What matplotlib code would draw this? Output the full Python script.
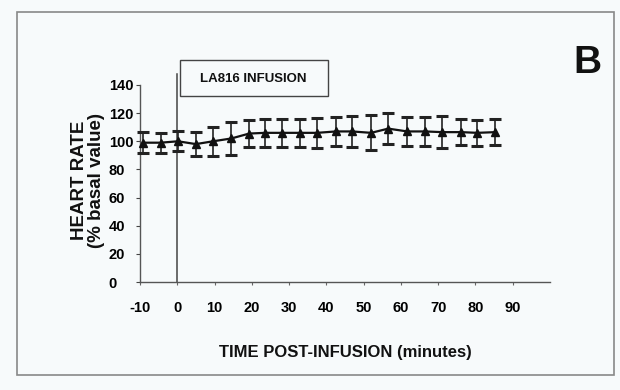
import matplotlib
matplotlib.use("Agg")
import matplotlib.pyplot as plt
from matplotlib.patches import Rectangle

# Data
time_min = [-9.3, -4.5, 0.2, 5.0, 9.6, 14.5, 19.3, 23.6, 28.2, 33.0, 37.5,
            42.6, 46.9, 52.0, 56.6, 61.7, 66.5, 71.1, 76.2, 80.5, 85.3]
heart_rate = [99, 99, 100, 98, 100, 102, 105.5, 106, 106, 106, 106,
              107, 107, 106, 109, 107, 107, 106.5, 106.5, 106, 106.5]
sem = [7.5, 7, 7, 8.5, 10.5, 12, 9.5, 10, 10, 10, 10.5,
       10.5, 11, 12.5, 11, 10, 10, 11.5, 9, 9, 9]
x_ticks = [-10, 0, 10, 20, 30, 40, 50, 60, 70, 80, 90]
y_ticks = [0, 20, 40, 60, 80, 100, 120, 140]

plt.rcParams['font.family'] = ['Liberation Sans', 'DejaVu Sans']
plt.rcParams['font.weight'] = 'bold'
plt.rcParams['axes.unicode_minus'] = False

bg = '#f7fafb'
fig = plt.figure(figsize=(6.2, 3.9), dpi=100, facecolor=bg)
ax = fig.add_axes([140/620, 1-282/390, 410/620, 197/390])
ax.set_facecolor(bg)

ax.errorbar(time_min, heart_rate, yerr=sem, fmt='-^', color='#111111',
            ecolor='#222222', elinewidth=1.2, capsize=4.2, capthick=2.2,
            markersize=5.5, linewidth=1.6, clip_on=False, zorder=3)

ax.axvline(0, ymin=0, ymax=148/140, color='#444444', linewidth=1.1, clip_on=False)

ax.set_xlim(-10, 100)
ax.set_ylim(0, 140)
ax.set_xticks(x_ticks)
ax.set_yticks(y_ticks)
for s in ['top', 'right']:
    ax.spines[s].set_visible(False)
for s in ['left', 'bottom']:
    ax.spines[s].set_color('#555555')
    ax.spines[s].set_linewidth(1.0)

ax.tick_params(axis='x', direction='out', length=2.5, width=0.8, color='#666666',
               labelsize=10.5, pad=11)
ax.tick_params(axis='y', direction='out', length=3, width=0.8, color='#444444',
               labelsize=10.5, pad=19.5)
for lab in ax.get_yticklabels():
    lab.set_horizontalalignment('left')
    lab.set_fontweight('bold')
for lab in ax.get_xticklabels():
    lab.set_fontweight('bold')

fig.text(88/620, 1-180/390, 'HEART RATE\n(% basal value)', rotation=90,
         ha='center', va='center', multialignment='center', linespacing=0.95,
         fontsize=13.5, fontweight='bold', color='#111111')
fig.text(345/620, 1-353/390, 'TIME POST-INFUSION (minutes)', ha='center', va='center',
         fontsize=12, fontweight='bold', color='#111111')

# Annotation box
fig.patches.append(Rectangle((180/620, 1-96/390), 148/620, 36/390,
                             transform=fig.transFigure, fill=False,
                             edgecolor='#444444', linewidth=1.0))
fig.text(253/620, 1-79/390, 'LA816 INFUSION', ha='center', va='center',
         fontsize=9.5, fontweight='bold', color='#111111')

fig.text(587/620, 1-63/390, 'B', ha='center', va='center',
         fontsize=28, fontweight='bold', color='#111111')

# Outer frame
fig.patches.append(Rectangle((17/620, 15/390), 597/620, 363/390,
                             transform=fig.transFigure, fill=False,
                             edgecolor='#888888', linewidth=1.2))

fig.savefig('out.png', dpi=100, facecolor=bg)
